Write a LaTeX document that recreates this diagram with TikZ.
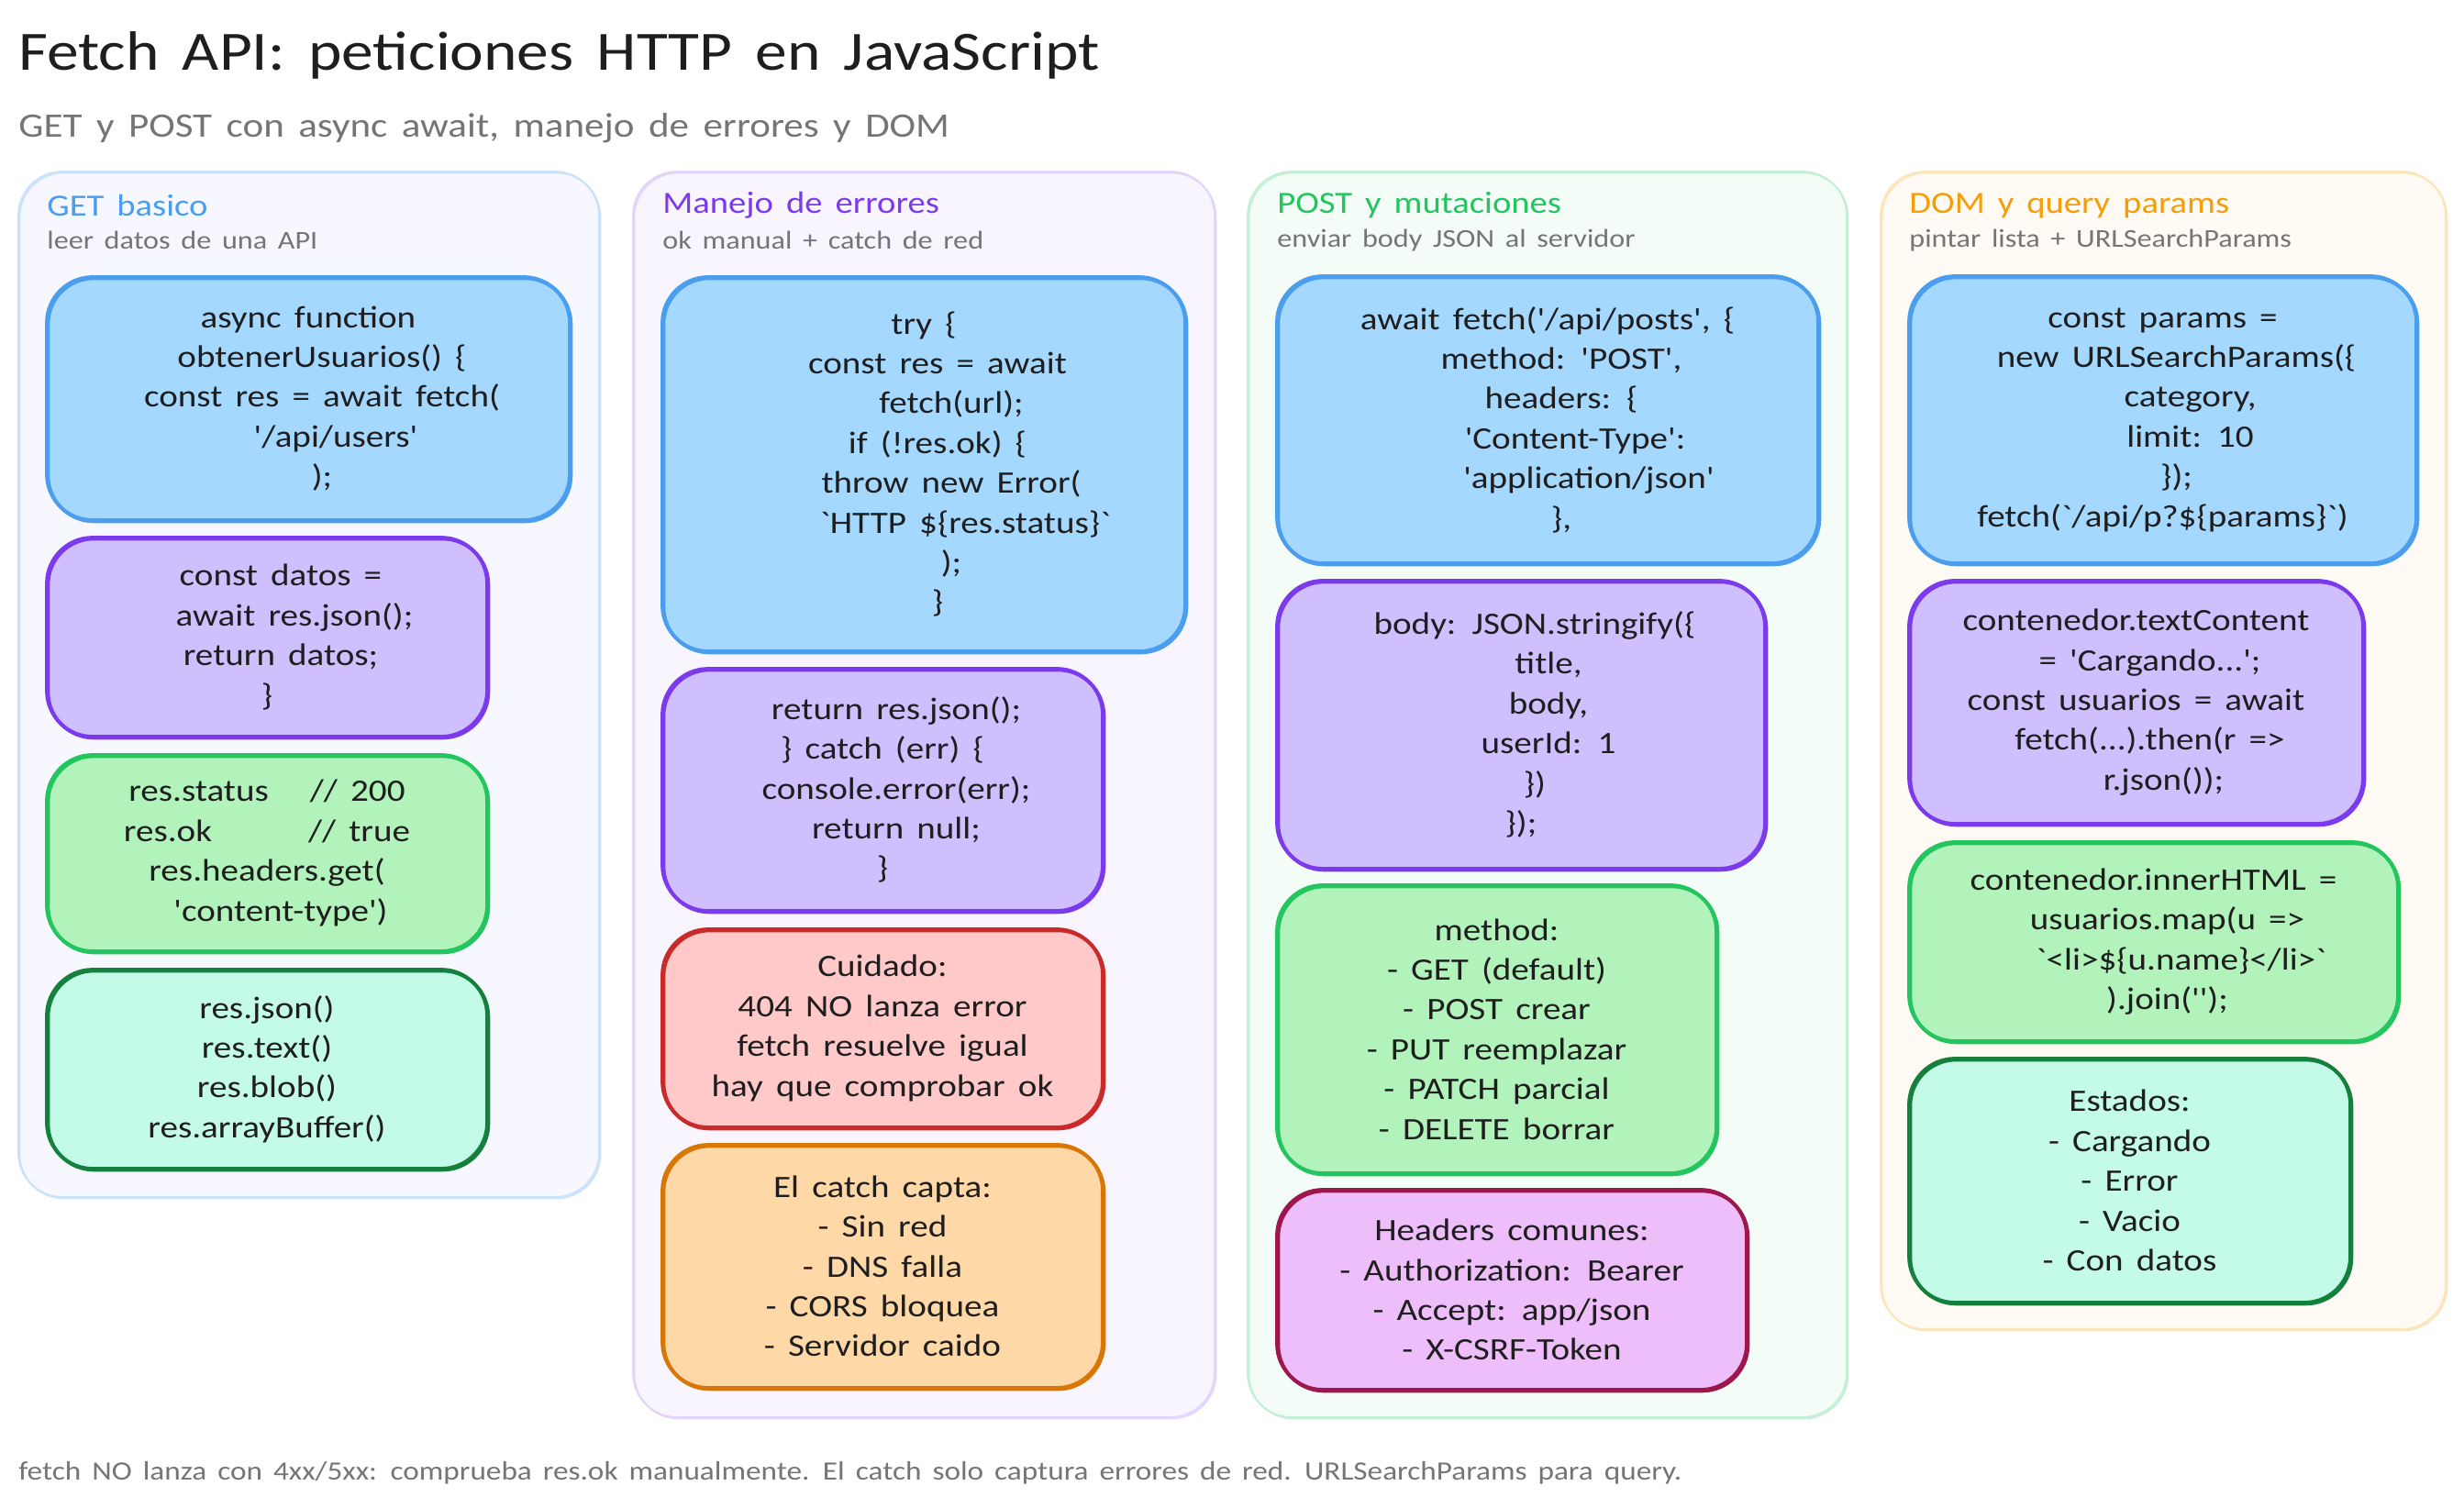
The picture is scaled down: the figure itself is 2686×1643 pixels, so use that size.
\documentclass[tikz,border=0pt]{standalone}
\usepackage{fontspec}
\usepackage{tikz}
\newfontfamily\handfont[FakeStretch=1.15, WordSpace=1.6]{Carlito}
\definecolor{inkBlack}{HTML}{1E1E1E}
\definecolor{noteGray}{HTML}{757575}
\definecolor{blueLine}{HTML}{4A9EED}
\definecolor{blueFill}{HTML}{A5D8FF}
\definecolor{purpleLine}{HTML}{7C3AED}
\definecolor{purpleFill}{HTML}{D0BFFF}
\definecolor{greenLine}{HTML}{22C55E}
\definecolor{greenFill}{HTML}{B2F2BB}
\definecolor{tealLine}{HTML}{15803D}
\definecolor{tealFill}{HTML}{C3FAE8}
\definecolor{redLine}{HTML}{C92A2A}
\definecolor{redFill}{HTML}{FFC9C9}
\definecolor{orangeLine}{HTML}{D97706}
\definecolor{orangeFill}{HTML}{FFD8A8}
\definecolor{pinkLine}{HTML}{9D174D}
\definecolor{pinkFill}{HTML}{EEBEFA}
\definecolor{amberLine}{HTML}{F59E0B}
\newcommand{\ind}[1]{\hspace*{#1\dimexpr 7.5pt\relax}}
\tikzset{
    sketch/.style={draw=#1, postaction={draw=#1, transform canvas={xshift=0.7pt, yshift=-0.7pt}}},
    panel/.style 2 args={anchor=north west, inner sep=0pt, outer sep=0pt, rounded corners=24pt, line width=0.9pt, fill=#2, sketch=#1},
    card/.style 2 args={anchor=north west, inner sep=0pt, outer sep=0pt, rounded corners=25pt, line width=1.9pt, fill=#2, sketch=#1, align=center, text=inkBlack, font=\handfont\fontsize{17}{21.7}\selectfont},
    bluecard/.style={card={blueLine}{blueFill}},
    purplecard/.style={card={purpleLine}{purpleFill}},
    greencard/.style={card={greenLine}{greenFill}},
    tealcard/.style={card={tealLine}{tealFill}},
    redcard/.style={card={redLine}{redFill}},
    orangecard/.style={card={orangeLine}{orangeFill}},
    pinkcard/.style={card={pinkLine}{pinkFill}},
    heading/.style={anchor=west, inner sep=0pt, text=#1, font=\handfont\fontsize{16.8}{24}\selectfont},
    subheading/.style={anchor=west, inner sep=0pt, text=noteGray, font=\handfont\fontsize{14}{18}\selectfont},
}

\begin{document}
\begin{tikzpicture}[x=0.5pt, y=-0.5pt]
    \fill[white] (0,0) rectangle (2686,1643);
    \useasboundingbox (0,0) rectangle (2686,1643);

    \node[anchor=west, inner sep=0pt, text=inkBlack, font=\handfont\fontsize{30.2}{36}\selectfont] (title) at (20,60) {Fetch API: peticiones HTTP en JavaScript};
    \node[anchor=west, inner sep=0pt, text=noteGray, font=\handfont\fontsize{18.7}{26}\selectfont] (subtitle) at (20,140) {GET y POST con async await, manejo de errores y DOM};

    % columns
    \node[panel={blueLine!30!white}{blue!3!white}, minimum width=316.5pt, minimum height=559pt] (getPanel) at (20,187) {};
    \node[panel={purpleLine!22!white}{purpleLine!5!white}, minimum width=317pt, minimum height=679pt] (errPanel) at (690,187) {};
    \node[panel={greenLine!27!white}{greenLine!5!white}, minimum width=326.5pt, minimum height=679pt] (postPanel) at (1360,187) {};
    \node[panel={amberLine!28!white}{amberLine!5!white}, minimum width=308pt, minimum height=631pt] (domPanel) at (2050,187) {};

    \node[heading=blueLine] (getTitle) at (51,224) {GET basico};
    \node[heading=purpleLine] (errTitle) at (722,224) {Manejo de errores};
    \node[heading=greenLine] (postTitle) at (1392,224) {POST y mutaciones};
    \node[heading=amberLine] (domTitle) at (2081,224) {DOM y query params};
    \node[subheading] (getSub) at (51,262) {leer datos de una API};
    \node[subheading] (errSub) at (722,262) {ok manual + catch de red};
    \node[subheading] (postSub) at (1392,262) {enviar body JSON al servidor};
    \node[subheading] (domSub) at (2081,262) {pintar lista + URLSearchParams};

    % GET basico
    \node[bluecard, minimum width=285pt, minimum height=132.5pt] (getA) at (51,302) {async function\\\ind{2}obtenerUsuarios() \{\\\ind{2}const res = await fetch(\\\ind{4}'/api/users'\\\ind{2});};
    \node[purplecard, minimum width=240pt, minimum height=108.5pt] (getB) at (51,586) {\ind{2}const datos =\\\ind{4}await res.json();\\\ind{2}return datos;\\\}};
    \node[greencard, minimum width=240pt, minimum height=107pt] (getC) at (51,823) {res.status\ind{3}// 200\\res.ok\ind{7}// true\\res.headers.get(\\\ind{2}'content-type')};
    \node[tealcard, minimum width=240pt, minimum height=108.5pt] (getD) at (51,1057) {res.json()\\res.text()\\res.blob()\\res.arrayBuffer()};

    % Manejo de errores
    \node[bluecard, minimum width=285pt, minimum height=204pt] (errA) at (722,302) {try \{\\\ind{2}const res = await\\\ind{4}fetch(url);\\\ind{2}if (!res.ok) \{\\\ind{4}throw new Error(\\\ind{6}`HTTP \$\{res.status\}`\\\ind{4});\\\ind{2}\}};
    \node[purplecard, minimum width=240pt, minimum height=132pt] (errB) at (722,729) {\ind{2}return res.json();\\\} catch (err) \{\\\ind{2}console.error(err);\\\ind{2}return null;\\\}};
    \node[redcard, minimum width=240pt, minimum height=108pt] (errC) at (722,1013) {Cuidado:\\404 NO lanza error\\fetch resuelve igual\\hay que comprobar ok};
    \node[orangecard, minimum width=240pt, minimum height=132.5pt] (errD) at (722,1248) {El catch capta:\\- Sin red\\- DNS falla\\- CORS bloquea\\- Servidor caido};

    % POST y mutaciones
    \node[bluecard, minimum width=295pt, minimum height=156.5pt] (postA) at (1392,301) {await fetch('/api/posts', \{\\\ind{2}method: 'POST',\\\ind{2}headers: \{\\\ind{4}'Content-Type':\\\ind{6}'application/json'\\\ind{2}\},};
    \node[purplecard, minimum width=266pt, minimum height=157pt] (postB) at (1392,633) {\ind{2}body: JSON.stringify(\{\\\ind{4}title,\\\ind{4}body,\\\ind{4}userId: 1\\\ind{2}\})\\\});};
    \node[greencard, minimum width=239.5pt, minimum height=157pt] (postC) at (1392,965) {method:\\- GET (default)\\- POST crear\\- PUT reemplazar\\- PATCH parcial\\- DELETE borrar};
    \node[pinkcard, minimum width=256pt, minimum height=109pt] (postD) at (1392,1297) {Headers comunes:\\- Authorization: Bearer\\- Accept: app/json\\- X-CSRF-Token};

    % DOM y query params
    \node[bluecard, minimum width=276.5pt, minimum height=156.5pt] (domA) at (2081,301) {const params =\\\ind{2}new URLSearchParams(\{\\\ind{4}category,\\\ind{4}limit: 10\\\ind{2}\});\\fetch(`/api/p?\$\{params\}`)};
    \node[purplecard, minimum width=247.5pt, minimum height=132.5pt] (domB) at (2081,633) {contenedor.textContent\\\ind{2}= 'Cargando...';\\const usuarios = await\\\ind{2}fetch(...).then(r =>\\\ind{4}r.json());};
    \node[greencard, minimum width=266.5pt, minimum height=108.5pt] (domC) at (2081,918) {contenedor.innerHTML =\\\ind{2}usuarios.map(u =>\\\ind{4}`<li>\$\{u.name\}</li>`\\\ind{2}).join('');};
    \node[tealcard, minimum width=240.5pt, minimum height=133pt] (domD) at (2081,1154) {Estados:\\- Cargando\\- Error\\- Vacio\\- Con datos};

    \node[anchor=west, inner sep=0pt, text=noteGray, font=\handfont\fontsize{14.45}{20}\selectfont] (footnote) at (20,1606) {fetch NO lanza con 4xx/5xx: comprueba res.ok manualmente. El catch solo captura errores de red. URLSearchParams para query.};
\end{tikzpicture}
\end{document}
